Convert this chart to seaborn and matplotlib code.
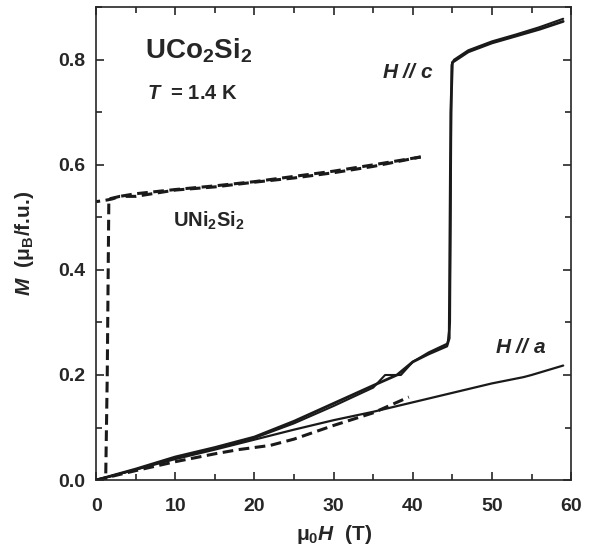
import numpy as np
import pandas as pd
import seaborn as sns
import matplotlib.pyplot as plt
from matplotlib.ticker import MultipleLocator

# UCo2Si2, H // c (two field sweeps)
hc_up_H = [0, 5, 10, 15, 20, 25, 30, 35, 38, 40, 42, 44.3, 44.6, 44.8, 45.0, 47, 50, 53, 56, 59]
hc_up_M = [0, 0.021, 0.044, 0.062, 0.082, 0.112, 0.146, 0.180, 0.200, 0.225, 0.240, 0.255,
           0.270, 0.700, 0.795, 0.815, 0.832, 0.845, 0.858, 0.873]
hc_dn_H = [59, 56, 53, 50, 47, 45.2, 44.9, 44.7, 44.4, 42, 40, 38.5, 36.5, 35, 30, 25, 20, 15, 10, 5, 0]
hc_dn_M = [0.878, 0.862, 0.848, 0.835, 0.818, 0.800, 0.790, 0.300, 0.260, 0.243, 0.225, 0.200,
           0.200, 0.176, 0.141, 0.108, 0.080, 0.060, 0.042, 0.020, 0]

# UCo2Si2, H // a
ha_H = [0, 5, 10, 15, 20, 25, 30, 35, 40, 45, 50, 54, 55, 59]
ha_M = [0, 0.020, 0.040, 0.058, 0.077, 0.096, 0.114, 0.130, 0.148, 0.166, 0.184, 0.196, 0.200, 0.218]

# UNi2Si2 (dashed)
un_up_H = [0, 1.2, 1.4, 1.6, 3, 5, 10, 15, 20, 25, 30, 35, 41]
un_up_M = [0, 0, 0.200, 0.535, 0.540, 0.540, 0.552, 0.558, 0.567, 0.575, 0.585, 0.597, 0.615]
un_dn_H = [41, 35, 30, 25, 20, 15, 10, 5, 3, 2, 1, 0]
un_dn_M = [0.615, 0.600, 0.588, 0.578, 0.568, 0.560, 0.553, 0.545, 0.540, 0.535, 0.532, 0.530]
un_low_H = [0, 5, 10, 15, 18, 22, 25, 30, 35, 38, 39.5]
un_low_M = [0, 0.018, 0.035, 0.050, 0.058, 0.066, 0.078, 0.104, 0.128, 0.148, 0.158]

sns.set_style("ticks")
plt.rcParams['font.family'] = ['Liberation Sans', 'DejaVu Sans']
plt.rcParams['mathtext.fontset'] = 'custom'
plt.rcParams['mathtext.rm'] = 'Liberation Sans:bold'
plt.rcParams['mathtext.it'] = 'Liberation Sans:bold:italic'
plt.rcParams['mathtext.bf'] = 'Liberation Sans:bold'

fig = plt.figure(figsize=(5.9, 5.55), dpi=100)
ax = fig.add_axes([0.163, 0.135, 0.805, 0.852])

solid = [(hc_up_H, hc_up_M, 2.0), (hc_dn_H, hc_dn_M, 1.5), (ha_H, ha_M, 1.6)]
for H, M, lw in solid:
    sns.lineplot(x=H, y=M, sort=False, estimator=None, color='#1a1a1a', lw=lw, ax=ax)

dashed = [(un_up_H, un_up_M), (un_dn_H, un_dn_M), (un_low_H, un_low_M)]
for H, M in dashed:
    sns.lineplot(x=H, y=M, sort=False, estimator=None, color='#1a1a1a', lw=2.2,
                 ax=ax, dashes=False).lines[-1].set_dashes((3.5, 1.8))

ax.set_xlim(0, 60)
ax.set_ylim(0, 0.9)
ax.xaxis.set_major_locator(MultipleLocator(10))
ax.xaxis.set_minor_locator(MultipleLocator(5))
ax.yaxis.set_major_locator(MultipleLocator(0.2))
ax.yaxis.set_minor_locator(MultipleLocator(0.1))
ax.set_yticks([0.0, 0.2, 0.4, 0.6, 0.8])
ax.tick_params(which='both', direction='in', top=True, right=True, width=1.2)
ax.tick_params(which='major', length=6, labelsize=14, pad=8)
ax.tick_params(axis='x', which='major', pad=13)
ax.tick_params(which='minor', length=4)
for lab in ax.get_xticklabels() + ax.get_yticklabels():
    lab.set_fontweight('bold')
for s in ax.spines.values():
    s.set_linewidth(1.2)

ax.set_xlabel(r'$\mathrm{\mu_0}$$H$  (T)', fontsize=15, fontweight='bold', labelpad=6)
ax.set_ylabel(r'$M$  ($\mathrm{\mu_B}$/f.u.)', fontsize=15, fontweight='bold', labelpad=16)

ax.text(6.2, 0.817, r'UCo$_2$Si$_2$', fontsize=20, fontweight='bold', va='center')
ax.text(6.4, 0.736, r'$T$  = 1.4 K', fontsize=14.5, fontweight='bold', va='center')
ax.text(36.1, 0.776, r'$H$ // $c$', fontsize=15, fontweight='bold', fontstyle='italic', va='center')
ax.text(50.4, 0.253, r'$H$ // $a$', fontsize=15, fontweight='bold', fontstyle='italic', va='center')
ax.text(9.7, 0.494, r'UNi$_2$Si$_2$', fontsize=14.5, fontweight='bold', va='center')

fig.savefig('out.png', dpi=100)
